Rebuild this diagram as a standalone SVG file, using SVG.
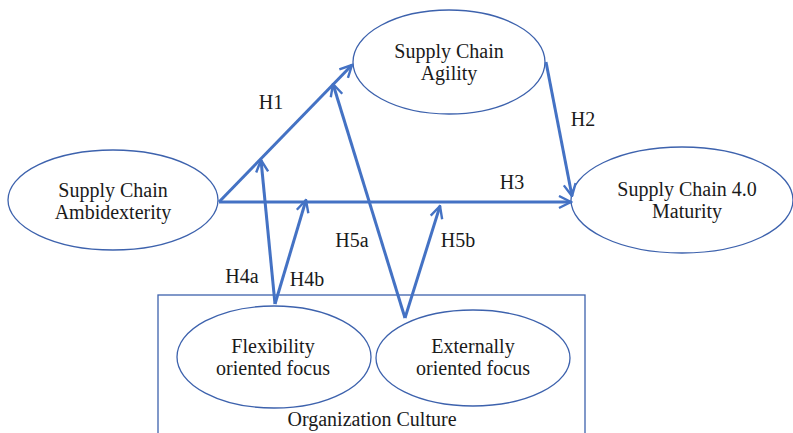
<svg xmlns="http://www.w3.org/2000/svg" width="793" height="433" viewBox="0 0 793 433">
<style>
.node{fill:#fff;stroke:#3d62ad;stroke-width:1.3}
.t{font-family:"Liberation Serif","DejaVu Serif",serif;font-size:20px;fill:#1a1a1a;text-anchor:middle}
.c{stroke:#4472c4;stroke-width:3;fill:none;marker-end:url(#ah)}
</style>
<defs>
<marker id="ah" viewBox="0 0 10 10" refX="9" refY="5" markerWidth="5" markerHeight="5" orient="auto" markerUnits="strokeWidth">
<path d="M1,1 L9,5 L1,9" fill="none" stroke="#4472c4" stroke-width="1.6" stroke-linejoin="miter"/>
</marker>
</defs>
<rect width="793" height="433" fill="#fff"/>
<g id="culture">
<rect x="158" y="295" width="427" height="150" fill="none" stroke="#3d62ad" stroke-width="1.3"/>
<text class="t" x="372" y="426">Organization Culture</text>
</g>
<g id="agility">
<ellipse class="node" cx="449" cy="62" rx="96" ry="52"/>
<text class="t" x="449" y="58">Supply Chain</text>
<text class="t" x="449" y="80">Agility</text>
</g>
<g id="ambidexterity">
<ellipse class="node" cx="113" cy="200" rx="105" ry="50"/>
<text class="t" x="113" y="197">Supply Chain</text>
<text class="t" x="113" y="219">Ambidexterity</text>
</g>
<g id="maturity">
<ellipse class="node" cx="682" cy="200" rx="111" ry="53"/>
<text class="t" x="687" y="196">Supply Chain 4.0</text>
<text class="t" x="687" y="218">Maturity</text>
</g>
<g id="flexibility">
<ellipse class="node" cx="274" cy="357" rx="97" ry="51"/>
<text class="t" x="273" y="353">Flexibility</text>
<text class="t" x="273" y="375">oriented focus</text>
</g>
<g id="externally">
<ellipse class="node" cx="473" cy="358" rx="97" ry="48"/>
<text class="t" x="473" y="353">Externally</text>
<text class="t" x="473" y="375">oriented focus</text>
</g>
<g id="connectors">
<path class="c" d="M219,202 L352,65"/>
<path class="c" d="M219,202 L571,202"/>
<path class="c" d="M546,62 L572,196"/>
<path class="c" d="M275,304 L261,160"/>
<path class="c" d="M275,304 L306,200"/>
<path class="c" d="M405,318 L333,84"/>
<path class="c" d="M405,318 L440,206"/>
<text class="t" x="271" y="109">H1</text>
<text class="t" x="583" y="126">H2</text>
<text class="t" x="512" y="189">H3</text>
<text class="t" x="242" y="283">H4a</text>
<text class="t" x="307" y="286">H4b</text>
<text class="t" x="352" y="247">H5a</text>
<text class="t" x="458" y="247">H5b</text>
</g>
</svg>
